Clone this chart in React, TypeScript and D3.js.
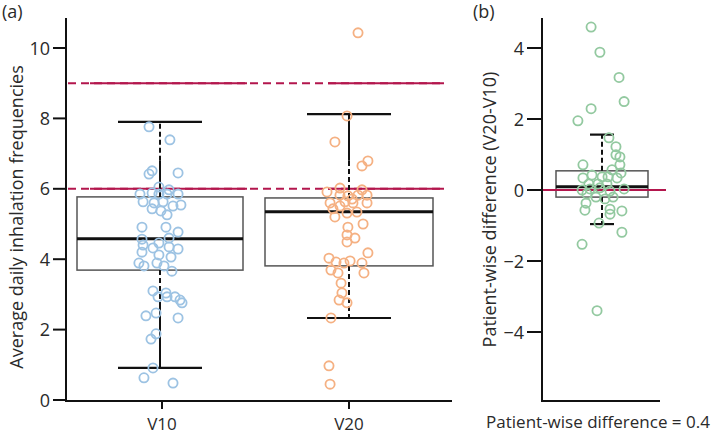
import React from "react";
import * as d3 from "d3";

const groups = ["V10", "V20"];
const leftTicks = [0, 2, 4, 6, 8, 10];
const rightTicks = [-4, -2, 0, 2, 4];
const thresholds = [6, 9];

const v10Values = [7.76, 7.39, 6.51, 6.42, 6.45, 6.05, 5.97, 5.85, 5.88, 5.85, 5.85, 5.85, 5.63, 5.6, 5.63, 5.51, 5.54, 5.43, 5.37, 5.26, 4.91, 4.91, 4.77, 4.57, 4.6, 4.46, 4.4, 4.32, 4.35, 4.29, 4.2, 4.12, 4.06, 3.89, 3.81, 3.89, 3.81, 3.66, 3.1, 3.04, 2.93, 2.93, 2.93, 2.84, 2.76, 2.39, 2.47, 2.33, 1.73, 1.88, 0.91, 0.63, 0.48];
const v10Jitter = [-0.59, 0.36, -0.45, -0.59, 0.73, -0.14, 0.32, -1, -0.45, -0.14, 0.23, 0.73, -0.86, -0.36, 0.05, 0.5, 0.86, -0.45, -0.05, 0.23, -0.91, 0.18, 0.73, -0.91, 0.32, -0.14, -0.86, -0.41, 0.32, 0.73, -0.91, -0.14, 0.41, -1.05, -0.82, -0.23, 0.09, 0.45, -0.41, 0.18, -0.18, 0.23, 0.59, 0.82, 0.91, -0.73, -0.27, 0.73, -0.5, -0.27, -0.41, -0.82, 0.5];

const v20Values = [10.43, 8.07, 7.33, 6.79, 6.65, 6.02, 5.91, 5.97, 5.82, 5.8, 5.82, 5.82, 5.71, 5.6, 5.63, 5.6, 5.6, 5.51, 5.43, 5.31, 5.34, 5.2, 5.0, 4.91, 4.69, 4.6, 4.49, 4.18, 4.03, 3.92, 3.89, 3.95, 3.89, 3.69, 3.61, 3.61, 3.32, 3.04, 2.84, 2.76, 2.33, 0.97, 0.45];
const v20Jitter = [0.41, -0.09, -0.64, 0.86, 0.59, -0.41, -1, 0.59, -0.41, -0.05, 0.41, 0.82, 0.14, -0.86, -0.18, 0.18, 0.82, -0.41, -0.73, -0.09, 0.36, -0.64, 0.64, -0.05, -0.09, 0.27, -0.09, 0.86, -0.91, -0.59, -0.23, 0.05, 0.59, -0.82, -0.5, 0.68, -0.36, -0.32, -0.45, -0.09, -0.82, -0.91, -0.86];

const diffValues = [4.59, 3.88, 3.17, 2.49, 2.29, 1.95, 1.47, 1.22, 0.99, 0.93, 0.71, 0.71, 0.57, 0.48, 0.34, 0.42, 0.37, 0.37, 0.34, 0.17, 0.17, 0.17, 0.0, 0.03, 0.06, -0.03, 0.03, -0.11, -0.2, -0.25, -0.2, -0.37, -0.54, -0.57, -0.59, -0.68, -0.93, -1.19, -1.53, -3.4];
const diffJitter = [-0.45, -0.05, 0.82, 1.05, -0.45, -1.05, 0.36, 0.68, 0.68, 0.86, 0.86, -0.82, 0.5, 0.91, -0.82, -0.41, 0.05, 0.32, 0.73, -0.55, -0.14, 0.27, -0.86, -0.5, -0.05, 0.41, 1.05, -0.64, -0.23, 0.18, 0.55, -0.68, 0.41, -0.73, 0.95, 0.41, -0.09, 0.95, -0.86, -0.18];

// box stats: [lowerWhisker, q1, median, q3, upperWhisker]
const v10Box = [0.91, 3.69, 4.58, 5.77, 7.9];
const v20Box = [2.33, 3.81, 5.35, 5.74, 8.12];
const diffBox = [-0.96, -0.2, 0.09, 0.54, 1.56];

const font = "'Open Sans', sans-serif";
const TXT = "#2a2a2a";
const RED = "#b3164d";
const BLUE = "#9dc3e3";
const ORANGE = "#f5b183";
const GREEN = "#93c9a0";

export default function App() {
  const yL = d3.scaleLinear().domain([0, 10]).range([400, 48]);
  const xL = d3.scalePoint<string>().domain(groups).range([162, 349]);
  const yR = d3.scaleLinear().domain([-4, 4]).range([332, 48]);
  const xR = d3.scaleBand<string>().domain(["diff"]).range([542, 660]);
  const rc = (xR("diff") as number) + xR.bandwidth() / 2;
  const jw = 22;
  const boxHalf = 83;
  const capHalf = 42;

  const boxEl = (
    cx: number,
    stats: number[],
    y: d3.ScaleLinear<number, number>,
    half: number,
    cap: number,
    upperSolidFrom: number | null,
    lowerSolidTo: number | null,
    upperSolidNear: "box" | "cap",
    key: string
  ) => {
    const [lo, q1, med, q3, hi] = stats;
    const segs: JSX.Element[] = [];
    if (upperSolidFrom === null) {
      segs.push(<line key="u" x1={cx} x2={cx} y1={y(q3)} y2={y(hi)} stroke="#111" strokeWidth={2} strokeDasharray="5,3" />);
    } else if (upperSolidNear === "box") {
      segs.push(<line key="u1" x1={cx} x2={cx} y1={y(upperSolidFrom)} y2={y(hi)} stroke="#111" strokeWidth={2} strokeDasharray="5,3" />);
      segs.push(<line key="u2" x1={cx} x2={cx} y1={y(q3)} y2={y(upperSolidFrom)} stroke="#111" strokeWidth={2} />);
    } else {
      segs.push(<line key="u1" x1={cx} x2={cx} y1={y(q3)} y2={y(upperSolidFrom)} stroke="#111" strokeWidth={2} strokeDasharray="5,3" />);
      segs.push(<line key="u2" x1={cx} x2={cx} y1={y(upperSolidFrom)} y2={y(hi)} stroke="#111" strokeWidth={2} />);
    }
    if (lowerSolidTo === null) {
      segs.push(<line key="l" x1={cx} x2={cx} y1={y(q1)} y2={y(lo)} stroke="#111" strokeWidth={2} strokeDasharray="5,3" />);
    } else {
      segs.push(<line key="l1" x1={cx} x2={cx} y1={y(q1)} y2={y(lowerSolidTo)} stroke="#111" strokeWidth={2} strokeDasharray="5,3" />);
      segs.push(<line key="l2" x1={cx} x2={cx} y1={y(lowerSolidTo)} y2={y(lo)} stroke="#111" strokeWidth={2} />);
    }
    return (
      <g key={key}>
        <rect x={cx - half} y={y(q3)} width={half * 2} height={y(q1) - y(q3)} fill="none" stroke="#555" strokeWidth={1.5} />
        <line x1={cx - half} x2={cx + half} y1={y(med)} y2={y(med)} stroke="#111" strokeWidth={3} />
        {segs}
        <line x1={cx - cap} x2={cx + cap} y1={y(hi)} y2={y(hi)} stroke="#111" strokeWidth={2.2} />
        <line x1={cx - cap} x2={cx + cap} y1={y(lo)} y2={y(lo)} stroke="#111" strokeWidth={2.2} />
      </g>
    );
  };

  const c1 = xL("V10") as number;
  const c2 = xL("V20") as number;

  return (
    <svg width={715} height={435} style={{ position: "absolute", left: 0, top: 0, background: "#fff" }} fontFamily={font}>
      <text x={2} y={18} fontSize={18} fill={TXT}>(a)</text>
      <text x={473} y={18} fontSize={18} fill={TXT}>(b)</text>

      {/* LEFT PANEL */}
      <text transform={`translate(23,${yL(5.2)}) rotate(-90)`} textAnchor="middle" fontSize={18} fill={TXT}>
        Average daily inhalation frequencies
      </text>
      {leftTicks.map((t) => (
        <g key={"lt" + t}>
          <line x1={53} x2={66} y1={yL(t)} y2={yL(t)} stroke="#111" strokeWidth={2} />
          <text x={50} y={yL(t) + 6.5} textAnchor="end" fontSize={18} fill={TXT}>{t}</text>
        </g>
      ))}

      {thresholds.map((t) => (
        <g key={"th" + t}>
          <line x1={68} x2={444} y1={yL(t)} y2={yL(t)} stroke={RED} strokeWidth={2} strokeDasharray="8,5" />
          <line x1={c1 - 72} x2={c1 + 85} y1={yL(t)} y2={yL(t)} stroke={RED} strokeWidth={2} />
          <line x1={c2 - 21} x2={c2 + 95} y1={yL(t)} y2={yL(t)} stroke={RED} strokeWidth={2} />
        </g>
      ))}

      {boxEl(c1 - 2, v10Box, yL, boxHalf, capHalf, 6.8, 2.7, "box", "b1")}
      {boxEl(c2, v20Box, yL, 84, capHalf, 6.8, null, "cap", "b2")}

      {v10Values.map((v, i) => (
        <circle key={"a" + i} cx={c1 + v10Jitter[i] * jw} cy={yL(v)} r={4.6} fill="none" stroke={BLUE} strokeWidth={1.8} />
      ))}
      {v20Values.map((v, i) => (
        <circle key={"b" + i} cx={c2 + v20Jitter[i] * jw} cy={yL(v)} r={4.6} fill="none" stroke={ORANGE} strokeWidth={1.8} />
      ))}

      <line x1={66} x2={66} y1={18} y2={401} stroke="#111" strokeWidth={2} />
      <line x1={65} x2={452} y1={401} y2={401} stroke="#111" strokeWidth={2} />
      {groups.map((g) => (
        <g key={"xt" + g}>
          <line x1={xL(g) as number} x2={xL(g) as number} y1={401} y2={409} stroke="#111" strokeWidth={2} />
          <text x={xL(g) as number} y={430} textAnchor="middle" fontSize={17} fill={TXT}>{g}</text>
        </g>
      ))}

      {/* RIGHT PANEL */}
      <text transform={`translate(496,${yR(-0.55)}) rotate(-90)`} textAnchor="middle" fontSize={18} fill={TXT}>
        Patient-wise difference (V20-V10)
      </text>
      {rightTicks.map((t) => (
        <g key={"rt" + t}>
          <line x1={527} x2={542} y1={yR(t)} y2={yR(t)} stroke="#111" strokeWidth={2} />
          <text x={524} y={yR(t) + 6.5} textAnchor="end" fontSize={18} fill={TXT}>{t < 0 ? "\u2212" + Math.abs(t) : t}</text>
        </g>
      ))}
      {boxEl(rc + 1, diffBox, yR, 46, 12, null, null, "box", "b3")}
      <line x1={542} x2={666} y1={yR(0)} y2={yR(0)} stroke={RED} strokeWidth={2} />
      {diffValues.map((v, i) => (
        <circle key={"d" + i} cx={rc + diffJitter[i] * jw} cy={yR(v)} r={4.6} fill="none" stroke={GREEN} strokeWidth={1.8} />
      ))}
      <line x1={542} x2={542} y1={18} y2={401} stroke="#111" strokeWidth={2} />
      <line x1={541} x2={660} y1={401} y2={401} stroke="#111" strokeWidth={2} />
      <text x={598} y={428} textAnchor="middle" fontSize={17} fill={TXT}>Patient-wise difference = 0.4</text>
    </svg>
  );
}
